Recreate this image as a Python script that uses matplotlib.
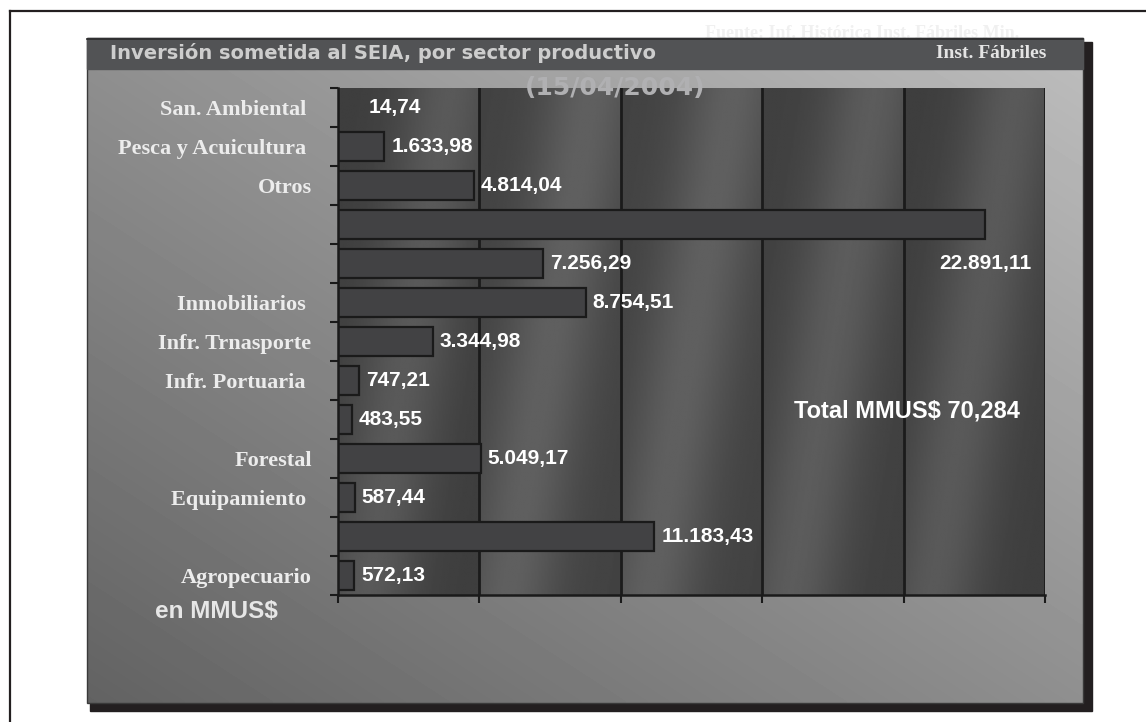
import numpy as np
import matplotlib.pyplot as plt
from matplotlib.patches import Rectangle
from matplotlib.colors import LinearSegmentedColormap

# Datos (MMUS$), de arriba hacia abajo
sectores = ['San. Ambiental ', 'Pesca y Acuicultura ', 'Otros', '', '',
            'Inmobiliarios ', 'Infr. Trnasporte', 'Infr. Portuaria ', '',
            'Forestal', 'Equipamiento ', '', 'Agropecuario']
montos = [14.74, 1633.98, 4814.04, 22891.11, 7256.29, 8754.51, 3344.98,
          747.21, 483.55, 5049.17, 587.44, 11183.43, 572.13]
etiquetas = ['14,74', '1.633,98', '4.814,04', '22.891,11', '7.256,29',
             '8.754,51', '3.344,98', '747,21', '483,55', '5.049,17',
             '587,44', '11.183,43', '572,13']
ticks_x = [0, 5000, 10000, 15000, 20000, 25000]
total = 'Total MMUS$ 70,284'

W, H = 1146, 722
fig = plt.figure(figsize=(W / 100, H / 100), dpi=100)
fig.patch.set_facecolor('white')

# fondo en pixeles
bg = fig.add_axes([0, 0, 1, 1])
bg.set_xlim(0, W)
bg.set_ylim(H, 0)
bg.axis('off')

# marco exterior
bg.plot([10, 10], [722, 11], color='#231f20', lw=1.6)
bg.plot([10, 1146], [11, 11], color='#231f20', lw=1.6)

# texto fuente (casi invisible, tapado en parte por el panel)
bg.text(705, 34, 'Fuente: Inf. Histórica Inst. Fábriles Min.', family='Liberation Serif',
        weight='bold', fontsize=13, color='#f0f0f0', va='center', ha='left', zorder=1)

# sombra del panel
bg.add_patch(Rectangle((90, 42), 1002, 669, color='#231f20', zorder=2))

# panel con degradado diagonal
px0, px1, py0, py1 = 87, 1083, 38, 703
xx, yy = np.meshgrid(np.linspace(px0, px1, 300), np.linspace(py0, py1, 200))
s = xx / 1000 - yy / 650
grad = (0x8f + s * 0x2d) / 255
cmap_gray = LinearSegmentedColormap.from_list('g', ['black', 'white'])
bg.imshow(grad, extent=(px0, px1, py1, py0), cmap=cmap_gray, vmin=0, vmax=1,
          aspect='auto', zorder=3, interpolation='bilinear')
bg.add_patch(Rectangle((px0, py0), px1 - px0, py1 - py0, fill=False,
                       edgecolor='#3a3a3a', lw=1, zorder=4))

# banda de titulo
bg.add_patch(Rectangle((px0, py0), px1 - px0, 31, color='#525355', zorder=4))
bg.plot([px0, px1], [py0 + 1, py0 + 1], color='#2a2a2a', lw=1.2, zorder=5)
bg.text(110, 53, 'Inversión sometida al SEIA, por sector productivo',
        family='DejaVu Sans', weight='bold', fontsize=14, color='#cdcdcd',
        va='center', ha='left', zorder=6)
bg.text(1046, 54, 'Inst. Fábriles', family='Liberation Serif', weight='bold',
        fontsize=14, color='#e4e4e4', va='center', ha='right', zorder=6)
bg.text(155, 612, 'en MMUS$', family='Liberation Sans', weight='bold',
        fontsize=17.5, color='#e6e6e6', va='center', ha='left', zorder=6)

# grafico de barras
ax = fig.add_axes([338 / W, (H - 595) / H, (1045 - 338) / W, (595 - 88) / H])
ax.set_facecolor('none')
n = len(montos)
y = np.arange(n)
xmax = ticks_x[-1]
ax.set_xlim(0, xmax)
ax.set_ylim(n - 0.5, -0.5)

# fondo oscuro con brillos diagonales por columna
u, v = np.meshgrid(np.linspace(0, 1, 100), np.linspace(0, 1, 200))
celda = 0.25 + 0.11 * np.exp(-((u - 0.5) + 0.6 * (v - 0.5)) ** 2 / 0.12)
fondo = np.hstack([celda * f for f in (0.97, 1.04, 1.04, 1.0, 0.97)])
ax.imshow(fondo, extent=(0, xmax, n - 0.5, -0.5), cmap=cmap_gray, vmin=0, vmax=1,
          aspect='auto', zorder=0, interpolation='bilinear')

for t in ticks_x[1:]:
    ax.axvline(t, color='#1b1b1b', lw=2, zorder=1)

ax.barh(y, montos, height=0.72, color='#424244', edgecolor='#1a1a1a',
        linewidth=1.6, zorder=3)

for i, (m, lab) in enumerate(zip(montos, etiquetas)):
    if m == max(montos):
        ax.text(m, i + 1, lab, ha='center', va='center', color='white',
                family='Liberation Sans', weight='bold', fontsize=15, zorder=5)
    else:
        dx = 22 if m < 100 else 5
        ax.annotate(lab, (m, i), xytext=(dx, 0), textcoords='offset points',
                    ha='left', va='center', color='white',
                    family='Liberation Sans', weight='bold', fontsize=15, zorder=5)

ax.text(0.805, 0.363, total, transform=ax.transAxes, ha='center', va='center',
        color='white', family='Liberation Sans', weight='bold', fontsize=17, zorder=5)

ax.spines[['top', 'right']].set_visible(False)
for sp in ('left', 'bottom'):
    ax.spines[sp].set_color('#1a1a1a')
    ax.spines[sp].set_linewidth(1.8)
    ax.spines[sp].set_zorder(4)

ax.set_xticks(ticks_x)
ax.set_xticklabels([])
ax.tick_params(axis='x', length=6, width=1.5, color='#1a1a1a')
ax.set_yticks(y)
ax.set_yticklabels(sectores, family='Liberation Serif', weight='bold',
                   fontsize=16, color='#ececec')
ax.tick_params(axis='y', which='major', length=0, pad=19)
ax.set_yticks(np.arange(-0.5, n), minor=True)
ax.tick_params(axis='y', which='minor', length=6, width=1.5, color='#1a1a1a')

fig.text(615 / W, 1 - 88 / H, '(15/04/2004)', family='DejaVu Sans', weight='bold',
         fontsize=18, color='#b0b0b2', ha='center', va='center', zorder=10)

fig.savefig('out.png', dpi=100)
